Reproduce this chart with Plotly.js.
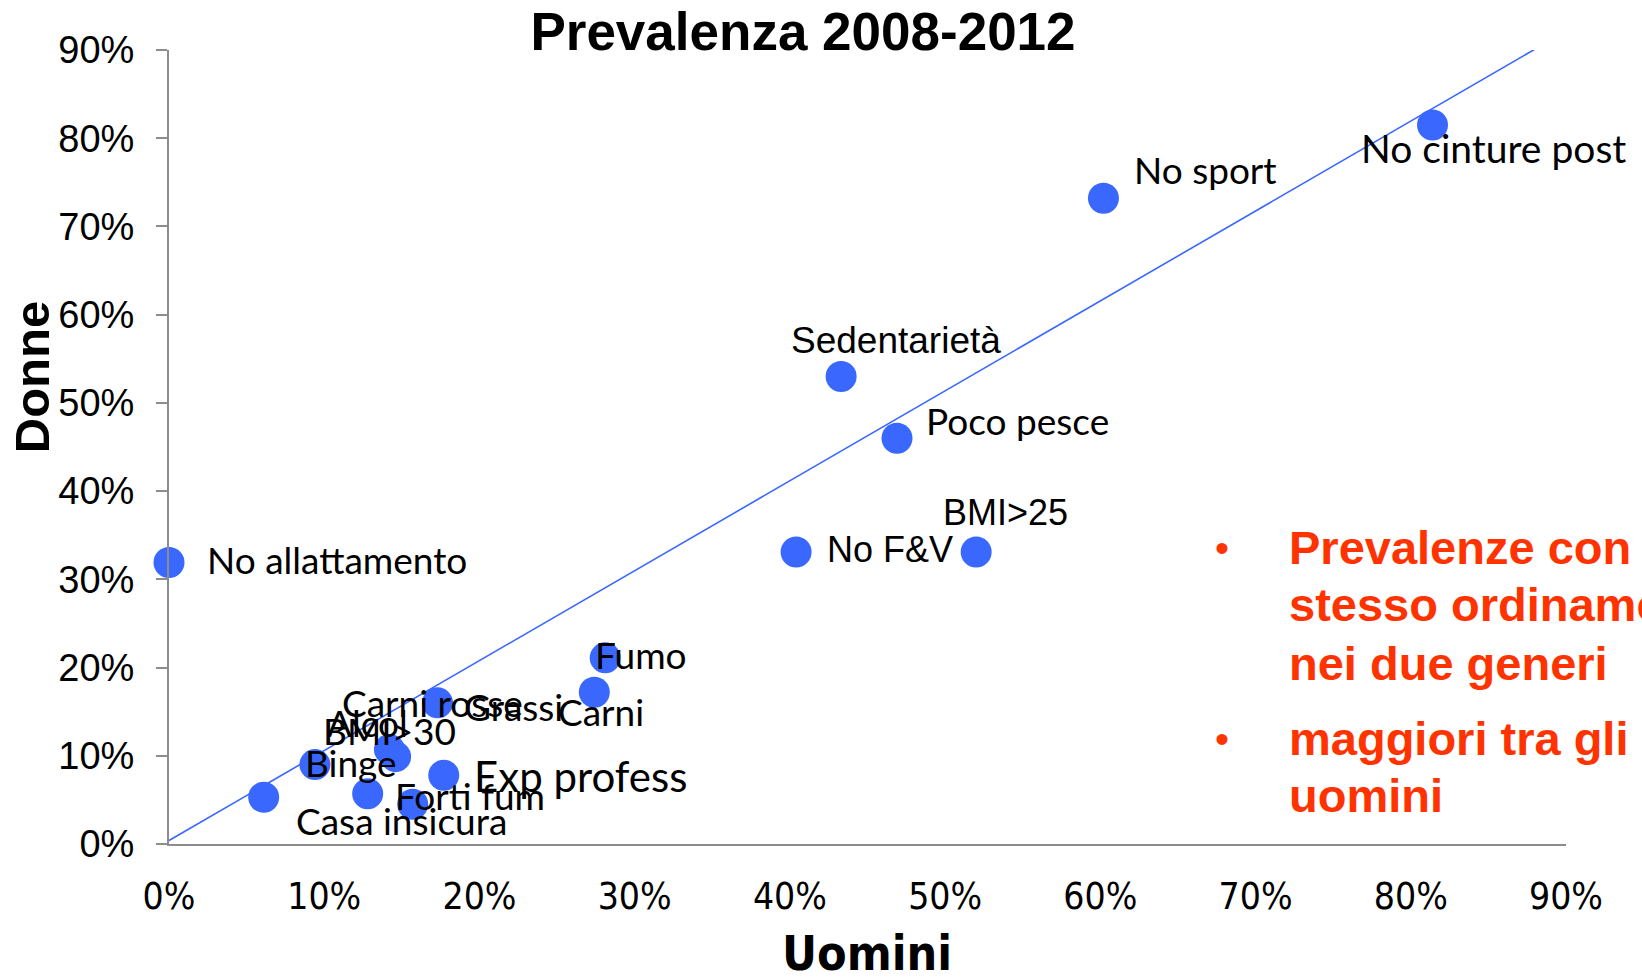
<!DOCTYPE html>
<html>
<head>
<meta charset="utf-8">
<script src="https://cdn.plot.ly/plotly-3.0.1.min.js"></script>
<style>
  html, body { margin: 0; padding: 0; background: #ffffff; }
  #chart { width: 1642px; height: 977px; }
</style>
</head>
<body>
<div id="chart"></div>
<script>
// ---------------- data ----------------
const pointNames = ['No allattamento', 'Casa insicura', 'Binge', 'Alcol', 'BMI>30', 'Forti fum', 'Grassi',
  'Exp profess', 'Carni rosse', 'Carni', 'Fumo', 'No F&V', 'BMI>25', 'Poco pesce', 'Sedentarietà',
  'No sport', 'No cinture post'];
const menValues = [0.000, 0.061, 0.094, 0.142, 0.146, 0.128, 0.157, 0.177, 0.173, 0.274, 0.281,
  0.404, 0.520, 0.469, 0.433, 0.602, 0.814];
const womenValues = [0.319, 0.053, 0.090, 0.107, 0.099, 0.057, 0.045, 0.078, 0.160, 0.172, 0.211,
  0.331, 0.331, 0.460, 0.530, 0.732, 0.815];
const trendMen = [0.000, 0.883];
const trendWomen = [0.004, 0.904];
const tickValues = [0, 0.1, 0.2, 0.3, 0.4, 0.5, 0.6, 0.7, 0.8, 0.9];
const tickLabels = ['0%', '10%', '20%', '30%', '40%', '50%', '60%', '70%', '80%', '90%'];
const chartTitle = 'Prevalenza 2008-2012';
const xTitle = 'Uomini';
const yTitle = 'Donne';
const bulletLines = [
  ['Prevalenze con', 'stesso ordinamento', 'nei due generi'],
  ['maggiori tra gli', 'uomini']
];

// ---------------- styling / placement ----------------
const W = 1642, H = 977;
const M = { l: 168.6, r: 76.4, t: 50.3, b: 133 };
const PW = W - M.l - M.r, PH = H - M.t - M.b;
const px2x = px => (px - M.l) / PW;
const py2y = py => (H - M.b - py) / PH;

const BLUE = '#3a68ff';
const ORANGE = '#ff3300';
const CAL = 'Lato, "Open Sans", sans-serif';
const ARIAL = '"Liberation Sans", Arial, sans-serif';
const NARROW = '"Liberation Sans Narrow", "DejaVu Sans Condensed", "Liberation Sans", sans-serif';

// label offsets [dx, dyDown] in px from point centre, font family and size
const labelStyle = [
  [168, -3, CAL, 37], [138, 23, CAL, 37], [36, -2, CAL, 37], [-22, -27, CAL, 37], [-6, -26, CAL, 37],
  [102, 2, CAL, 37], [101, -98, CAL, 37], [137, 1, CAL, 42], [-5, 0, CAL, 37], [7, 19, CAL, 37],
  [36, -3, CAL, 37], [94, -2, ARIAL, 36], [29, -39, ARIAL, 36], [121, -18, CAL, 37],
  [55, -36, ARIAL, 37], [102, -29, CAL, 37], [61, 23, CAL, 39]
];

const annotations = [];
pointNames.forEach((name, i) => {
  const s = labelStyle[i];
  annotations.push({
    x: menValues[i], y: womenValues[i], xref: 'x', yref: 'y',
    text: name, showarrow: false, xanchor: 'center', yanchor: 'middle',
    xshift: s[0], yshift: -s[1],
    font: { family: s[2], size: s[3], color: '#000000' }
  });
});

// axis titles
annotations.push({
  x: px2x(867), y: py2y(953), xref: 'paper', yref: 'paper', text: '<b>' + xTitle + '</b>',
  showarrow: false, xanchor: 'center', yanchor: 'middle',
  font: { family: NARROW, size: 48, color: '#000000' }
});
annotations.push({
  x: px2x(31), y: py2y(377), xref: 'paper', yref: 'paper', text: '<b>' + yTitle + '</b>',
  showarrow: false, xanchor: 'center', yanchor: 'middle', textangle: -90,
  font: { family: ARIAL, size: 49, color: '#000000' }
});

// bullet text
const lineYs = [[548, 605, 664], [739, 796]];
bulletLines.forEach((group, g) => {
  annotations.push({
    x: px2x(1222), y: py2y(lineYs[g][0]), xref: 'paper', yref: 'paper', text: '•',
    showarrow: false, xanchor: 'center', yanchor: 'middle',
    font: { family: ARIAL, size: 40, color: ORANGE }
  });
  group.forEach((t, k) => {
    annotations.push({
      x: px2x(1287), y: py2y(lineYs[g][k]), xref: 'paper', yref: 'paper', text: '<b>' + t + '</b>',
      showarrow: false, xanchor: 'left', yanchor: 'middle',
      font: { family: ARIAL, size: 47, color: ORANGE }
    });
  });
});

const traces = [
  {
    type: 'scatter', mode: 'markers', x: menValues, y: womenValues, text: pointNames,
    marker: { size: 31, color: BLUE }, cliponaxis: false, hoverinfo: 'text+x+y'
  },
  {
    type: 'scatter', mode: 'lines', x: trendMen, y: trendWomen,
    line: { color: BLUE, width: 1.6 }, cliponaxis: false, hoverinfo: 'skip'
  }
];

const axisCommon = {
  range: [0, 0.9], tickvals: tickValues, ticktext: tickLabels,
  showgrid: false, zeroline: false, showline: true, linecolor: '#8c8c8c', linewidth: 2,
  fixedrange: true
};

const layout = {
  width: W, height: H,
  margin: { l: M.l, r: M.r, t: M.t, b: M.b, pad: 0 },
  paper_bgcolor: '#ffffff', plot_bgcolor: 'rgba(0,0,0,0)',
  showlegend: false,
  title: {
    text: '<b>' + chartTitle + '</b>', x: 803 / W, xref: 'container', xanchor: 'center',
    y: 1 - 31 / H, yref: 'container', yanchor: 'middle',
    font: { family: ARIAL, size: 53, color: '#000000' }
  },
  xaxis: Object.assign({}, axisCommon, {
    ticks: '', ticklabelstandoff: 19,
    tickfont: { family: NARROW, size: 37, color: '#000000' }
  }),
  yaxis: Object.assign({}, axisCommon, {
    ticks: 'outside', ticklen: 11, tickwidth: 2, tickcolor: '#8c8c8c', ticklabelstandoff: 14,
    tickfont: { family: ARIAL, size: 38, color: '#000000' }
  }),
  annotations: annotations
};

Plotly.newPlot('chart', traces, layout, { displayModeBar: false, staticPlot: false });
</script>
</body>
</html>
